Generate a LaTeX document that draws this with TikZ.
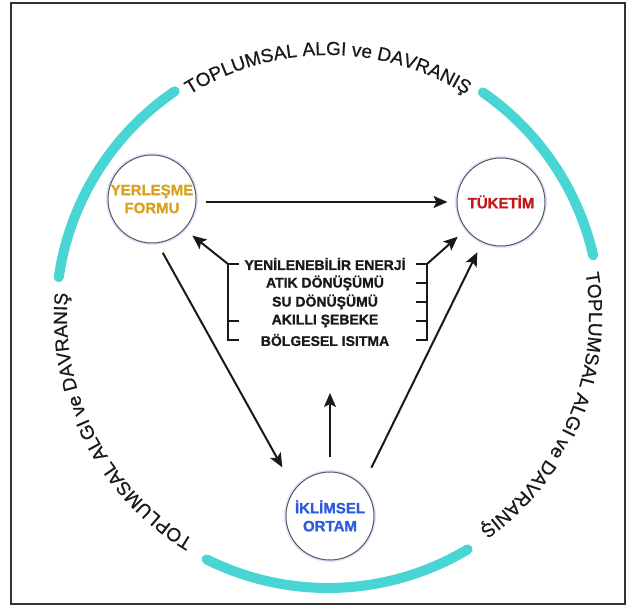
\documentclass[tikz,border=0pt]{standalone}
\usepackage{fontspec}
\setmainfont{Liberation Sans}
\newfontfamily\heavyfont{Liberation Sans Bold}[FakeBold=1.2]
\newfontfamily\ringfamily{Liberation Sans}[FakeBold=0.6]
\usetikzlibrary{arrows.meta,decorations.text}
\definecolor{ring}{HTML}{4AD5D5}
\definecolor{ringtext}{HTML}{1A1A1A}
\definecolor{gold}{HTML}{D9A21E}
\definecolor{tred}{HTML}{C41818}
\definecolor{iblue}{HTML}{2F5BE0}
\definecolor{framecol}{HTML}{333333}
\newcommand\ringfont{\ringfamily\fontsize{19}{21}\selectfont\color{ringtext}}
\begin{document}
\begin{tikzpicture}[x=1pt,y=1pt,
  bubble/.style={circle, draw=black!65, line width=1pt, fill=white, minimum size=88pt, inner sep=0pt, align=center,
    font=\heavyfont\fontsize{15}{18}\selectfont, preaction={draw=blue!12, line width=4pt}},
  arr/.style={-{Stealth[length=14pt,width=12pt,inset=3pt]}, line width=2pt, draw=black!90},
  item/.style={font=\heavyfont\fontsize{14}{16}\selectfont, inner sep=0pt, text=black!90},
  brk/.style={line width=2.5pt, draw=black!90},
  ringarc/.style={draw=ring, line width=10pt, line cap=round},
  ringtxt/.style={decorate, decoration={text along path, text align=center,
    text={|\ringfont|TOPLUMSAL ALGI ve DAVRANIŞ}}}
]
\useasboundingbox (0,0) rectangle (636,608);
\draw[draw=framecol, line width=1.3pt] (11,4) rectangle (625,605);
\coordinate (c) at (328,292);
% ring arcs
\draw[ringarc] ([shift={(124.3:272)}]c) arc[start angle=124.3, end angle=171.8, radius=272];
\draw[ringarc] ([shift={(12.9:272)}]c) arc[start angle=12.9, end angle=55.3, radius=272];
\draw[ringarc] ([shift={(243.5:272)}]c) arc[start angle=243.5, end angle=300.9, radius=272];
% ring texts
\path[ringtxt] ([shift={(125:261)}]c) arc[start angle=125, end angle=55, radius=261];
\path[ringtxt] ([shift={(20:261)}]c) arc[start angle=20, end angle=-65, radius=261];
\path[ringtxt] ([shift={(248:261)}]c) arc[start angle=248, end angle=166, radius=261];
% main nodes
\node[bubble, text=gold] (YF) at (152,409) {YERLEŞME\\FORMU};
\node[bubble, text=tred] (TK) at (501,406) {TÜKETİM};
\node[bubble, text=iblue] (IO) at (330,92) {İKLİMSEL\\ORTAM};
% list
\node[item] (i1) at (325,344) {YENİLENEBİLİR ENERJİ};
\node[item] (i2) at (325,325) {ATIK DÖNÜŞÜMÜ};
\node[item] (i3) at (325,306) {SU DÖNÜŞÜMÜ};
\node[item] (i4) at (325,287) {AKILLI ŞEBEKE};
\node[item] (i5) at (325,268) {BÖLGESEL ISITMA};
% brackets
\coordinate (lbt) at (228,344);
\coordinate (rbt) at (427,344);
\draw[brk] (239,344) -- (lbt) -- (228,268) -- (239,268);
\draw[brk] (228,287) -- (239,287);
\draw[brk] (416,344) -- (rbt) -- (427,268) -- (416,268);
\draw[brk] (427,325) -- (416,325);
\draw[brk] (427,306) -- (416,306);
\draw[brk] (427,287) -- (416,287);
% arrows
\coordinate (up) at (330,215);
\draw[arr, shorten <=9pt, shorten >=9pt] (YF.east |- TK.west) -- (TK.west);
\draw[arr, shorten <=11pt, shorten >=25pt] (YF.-83) -- (IO.143);
\draw[arr, shorten <=20pt, shorten >=11pt] (IO.43) -- (TK.245);
\draw[arr, shorten <=15pt] (IO.north) -- (up);
\draw[arr, shorten >=10pt] (lbt) -- (YF.-43);
\draw[arr, shorten >=11pt] (rbt) -- (TK.218);
\end{tikzpicture}
\end{document}
